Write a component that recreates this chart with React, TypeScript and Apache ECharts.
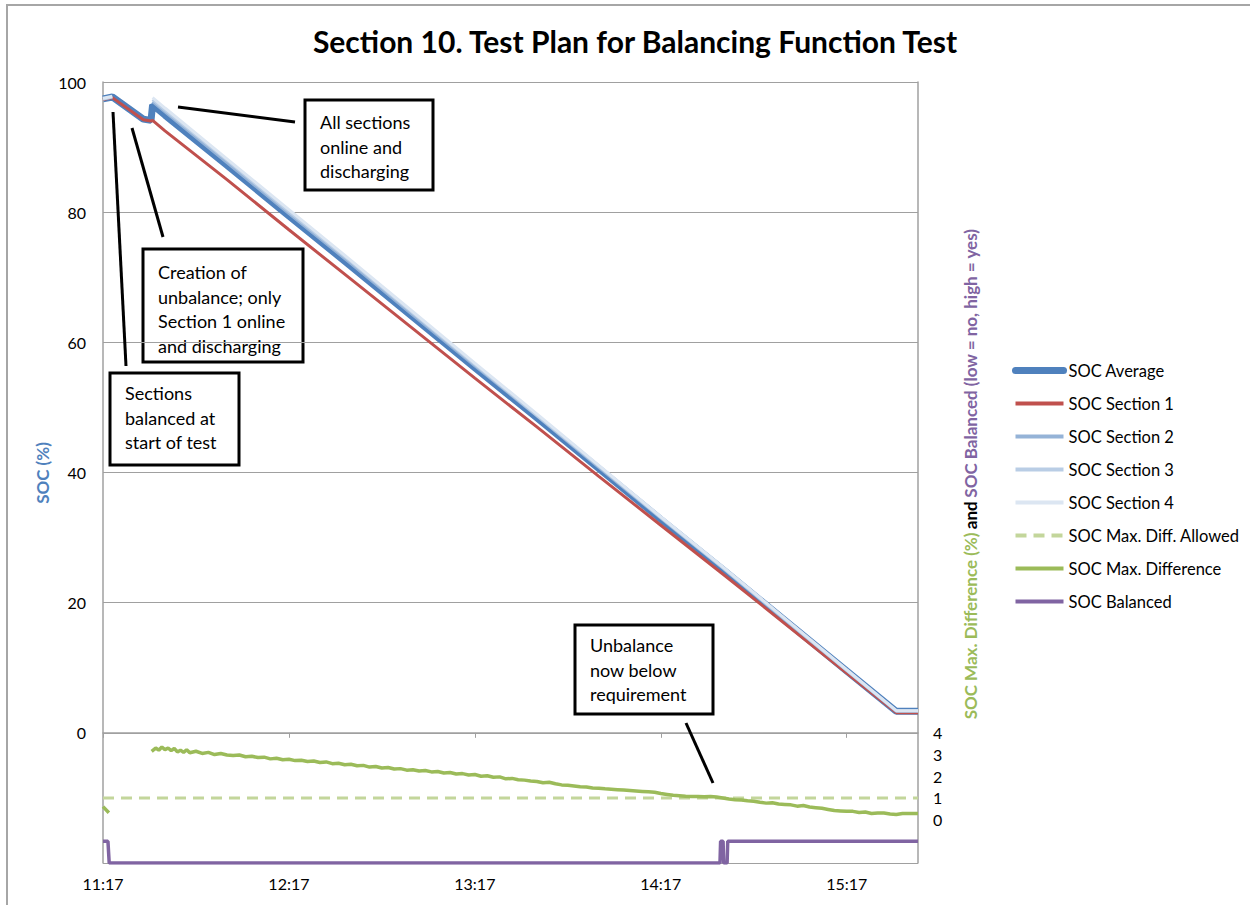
import React, { useEffect, useRef } from "react";
import * as echarts from "echarts";

// ---- Data (minutes after 11:17) ----
const START_MIN = 11 * 60 + 17;
const X_MAX = 263;
const SOC_TIME = [0, 3, 13, 15.5, 16, 20, 40, 60, 80, 100, 120, 140, 160, 180, 200, 220, 240, 256, 263];
const SOC_AVERAGE = [97.4, 97.7, 94.3, 94.1, 96.5, 94.9, 87.2, 79.4, 71.7, 63.9, 56.1, 48.4, 40.6, 32.8, 25.1, 17.3, 9.5, 3.3, 3.3];
const SOC_S1 = [97.3, 97.6, 94.2, 94.0, 94.1, 92.5, 85.0, 77.3, 69.7, 62.1, 54.5, 47.0, 39.4, 31.9, 24.4, 16.8, 9.2, 3.1, 3.1];
const SOC_S2 = [97.4, 97.7, null, null, 97.0, 95.4, 87.6, 79.8, 72.1, 64.2, 56.4, 48.7, 40.8, 33.0, 25.3, 17.4, 9.6, 3.3, 3.3];
const SOC_S3 = [97.4, 97.7, null, null, 97.3, 95.7, 88.0, 80.1, 72.4, 64.5, 56.6, 48.8, 41.0, 33.1, 25.4, 17.5, 9.6, 3.4, 3.4];
const SOC_S4 = [97.5, 97.8, null, null, 97.6, 96.0, 88.2, 80.4, 72.6, 64.7, 56.8, 49.0, 41.1, 33.2, 25.5, 17.6, 9.7, 3.4, 3.4];

const ALLOWED_TIME = [0, 263];
const ALLOWED_VALUES = [1, 1];

const DIFF_TIME = [0, 1.9, 8, 15.7, 17, 18, 19, 20, 21, 22, 23, 24, 25, 26, 27, 28, 30, 32, 34, 36, 38, 40, 42, 44, 46, 48, 50, 52, 54, 56, 58, 60, 62, 64, 66, 68, 70, 72, 74, 76, 78, 80, 82, 84, 86, 88, 90, 92, 94, 96, 98, 100, 102, 104, 106, 108, 110, 112, 114, 116, 118, 120, 122, 124, 126, 128, 130, 132, 134, 136, 138, 140, 142, 144, 146, 148, 150, 152, 154, 156, 158, 160, 162, 164, 166, 168, 170, 172, 174, 176, 178, 180, 182, 184, 186, 188, 190, 192, 194, 196, 198, 200, 202, 204, 206, 208, 210, 212, 214, 216, 218, 220, 222, 224, 226, 228, 230, 232, 234, 236, 238, 240, 242, 244, 246, 248, 250, 252, 254, 256, 258, 260, 263];
const DIFF_VALUES = [0.6, 0.32, null, 3.15, 3.3, 3.2, 3.35, 3.22, 3.3, 3.18, 3.28, 3.12, 3.2, 3.1, 3.22, 3.08, 3.15, 3.05, 3.1, 3.0, 3.05, 2.98, 2.95, 2.98, 2.9, 2.92, 2.86, 2.88, 2.8, 2.83, 2.76, 2.78, 2.72, 2.74, 2.68, 2.7, 2.63, 2.66, 2.58, 2.6, 2.53, 2.55, 2.48, 2.5, 2.42, 2.45, 2.38, 2.4, 2.33, 2.35, 2.28, 2.3, 2.24, 2.26, 2.2, 2.22, 2.15, 2.17, 2.1, 2.12, 2.06, 2.08, 2.0, 2.02, 1.95, 1.97, 1.88, 1.9, 1.84, 1.82, 1.78, 1.76, 1.7, 1.72, 1.65, 1.6, 1.58, 1.55, 1.52, 1.5, 1.46, 1.45, 1.42, 1.4, 1.38, 1.36, 1.34, 1.32, 1.3, 1.28, 1.26, 1.2, 1.16, 1.12, 1.1, 1.08, 1.07, 1.06, 1.05, 1.07, 1.04, 1.0, 0.95, 0.92, 0.9, 0.87, 0.85, 0.8, 0.76, 0.78, 0.72, 0.7, 0.68, 0.62, 0.65, 0.58, 0.55, 0.52, 0.47, 0.42, 0.4, 0.38, 0.38, 0.33, 0.35, 0.28, 0.3, 0.3, 0.26, 0.24, 0.28, 0.28, 0.28];

const BAL_TIME = [0, 1.6, 2.0, 199.1, 199.3, 200.1, 200.3, 201.4, 201.6, 263];
const BAL_VALUES = [1, 1, 0, 0, 1, 1, 0, 0, 1, 1];

const LEFT_TICKS = [0, 20, 40, 60, 80, 100];
const RIGHT_TICKS = [0, 1, 2, 3, 4];

const SERIES_NAMES = [
  "SOC Average",
  "SOC Section 1",
  "SOC Section 2",
  "SOC Section 3",
  "SOC Section 4",
  "SOC Max. Diff. Allowed",
  "SOC Max. Difference",
  "SOC Balanced",
];

const FONT = "Lato, 'Open Sans', sans-serif";

function zip(xs: number[], ys: (number | null)[]) {
  return xs.map((x, i) => [x, ys[i]]);
}

function fmtTime(v: number) {
  const t = START_MIN + Math.round(v);
  const h = Math.floor(t / 60);
  const m = t % 60;
  return h + ":" + (m < 10 ? "0" : "") + m;
}

export default function App() {
  const ref = useRef<HTMLDivElement>(null);
  useEffect(() => {
    if (!ref.current) return;
    const chart = echarts.init(ref.current, undefined, { renderer: "svg" });
    const lineSeries = (name: string, data: any[], color: string, width: number, yAxisIndex = 0, extra: any = {}) => ({
      name,
      type: "line",
      data,
      yAxisIndex,
      symbol: "none",
      showSymbol: false,
      connectNulls: false,
      lineStyle: { color, width, ...(extra.lineStyle || {}) },
      itemStyle: { color },
      emphasis: { disabled: true },
      z: 2,
    });
    const boxText = (x: number, y: number, w: number, h: number, text: string, dy: number) => ({
      type: "group",
      z: 100,
      children: [
        { type: "rect", shape: { x, y, width: w, height: h }, style: { fill: "#fff", stroke: "#000", lineWidth: 3 } },
        {
          type: "text",
          x: x + 15,
          y: y + dy,
          style: { text, fill: "#000", font: `18px ${FONT}`, lineHeight: 24.5, textAlign: "left", textVerticalAlign: "top" },
        },
      ],
    });
    const callout = (x1: number, y1: number, x2: number, y2: number) => ({
      type: "line",
      z: 100,
      shape: { x1, y1, x2, y2 },
      style: { stroke: "#000", lineWidth: 3 },
    });

    chart.setOption({
      animation: false,
      backgroundColor: "#fff",
      title: {
        text: "Section 10. Test Plan for Balancing Function Test",
        left: 630,
        top: 21,
        textAlign: "center",
        textStyle: { fontFamily: FONT, fontWeight: "bold", fontSize: 30, color: "#000" },
      },
      grid: { left: 103, top: 82, right: 332, bottom: 42, containLabel: false },
      legend: {
        orient: "vertical",
        left: 1012,
        top: 362,
        padding: 0,
        itemWidth: 48,
        itemHeight: 14,
        itemGap: 16,
        itemStyle: { opacity: 0 },
        lineStyle: { width: 4 },
        data: SERIES_NAMES.map((name, i) =>
          i === 0 ? { name, lineStyle: { width: 7, cap: "round" } } : { name }
        ),
        textStyle: { fontFamily: FONT, fontSize: 16.5, lineHeight: 14, color: "#000" },
        selectedMode: false,
      },
      xAxis: {
        type: "value",
        min: 0,
        max: X_MAX,
        interval: 60,
        axisLine: { lineStyle: { color: "#a0a0a0", width: 1.5 } },
        axisTick: { show: true, length: 5, lineStyle: { color: "#a0a0a0" } },
        splitLine: { show: false },
        axisLabel: {
          formatter: (v: number) => fmtTime(v),
          showMaxLabel: false,
          fontFamily: FONT,
          fontSize: 16,
          color: "#000",
          margin: 12,
        },
      },
      yAxis: [
        {
          type: "value",
          min: -20,
          max: 100,
          interval: 20,
          position: "left",
          axisLine: { show: true, lineStyle: { color: "#a0a0a0", width: 1.5 } },
          axisTick: { show: false },
          splitLine: { show: true, lineStyle: { color: "#a0a0a0", width: 1.2 } },
          axisLabel: {
            formatter: (v: number) => (LEFT_TICKS.includes(v) ? String(v) : ""),
            fontFamily: FONT,
            fontSize: 16,
            color: "#000",
            margin: 17,
          },
        },
        {
          type: "value",
          min: -2,
          max: 34,
          interval: 1,
          position: "right",
          axisLine: { show: true, lineStyle: { color: "#a0a0a0", width: 1.5 } },
          axisTick: { show: false },
          splitLine: { show: false },
          axisLabel: {
            formatter: (v: number) => (RIGHT_TICKS.includes(v) ? String(v) : ""),
            fontFamily: FONT,
            fontSize: 16,
            color: "#000",
            margin: 15,
          },
        },
        {
          type: "value",
          min: 0,
          max: 36,
          show: false,
          position: "right",
          splitLine: { show: false },
        },
      ],
      series: [
        lineSeries(SERIES_NAMES[0], zip(SOC_TIME, SOC_AVERAGE), "#4f81bd", 7),
        lineSeries(SERIES_NAMES[1], zip(SOC_TIME, SOC_S1), "#c0504d", 3),
        lineSeries(SERIES_NAMES[2], zip(SOC_TIME, SOC_S2), "#95b3d7", 3),
        lineSeries(SERIES_NAMES[3], zip(SOC_TIME, SOC_S3), "#b9cde5", 3),
        lineSeries(SERIES_NAMES[4], zip(SOC_TIME, SOC_S4), "#dce6f2", 3),
        lineSeries(SERIES_NAMES[5], zip(ALLOWED_TIME, ALLOWED_VALUES), "#c3d69b", 3, 1, { lineStyle: { type: [11, 7] } }),
        lineSeries(SERIES_NAMES[6], zip(DIFF_TIME, DIFF_VALUES), "#9bbb59", 3.5, 1),
        lineSeries(SERIES_NAMES[7], zip(BAL_TIME, BAL_VALUES), "#8064a2", 3.5, 2),
      ],
      graphic: [
        {
          type: "rect",
          z: -1,
          shape: { x: 7, y: 5, width: 1280, height: 940 },
          style: { fill: "none", stroke: "#a6a6a6", lineWidth: 2 },
          silent: true,
        },
        {
          type: "text",
          x: 42,
          y: 473,
          rotation: Math.PI / 2,
          style: {
            text: "SOC (%)",
            fill: "#4f81bd",
            font: `bold 17px ${FONT}`,
            textAlign: "center",
            textVerticalAlign: "middle",
          },
        },
        {
          type: "text",
          x: 970,
          y: 474,
          rotation: Math.PI / 2,
          style: {
            text: "{g|SOC Max. Difference (%)} {k|and} {p|SOC Balanced (low = no, high = yes)}",
            textAlign: "center",
            textVerticalAlign: "middle",
            rich: {
              g: { fill: "#9bbb59", fontFamily: FONT, fontWeight: "bold", fontSize: 17 },
              k: { fill: "#000", fontFamily: FONT, fontWeight: "bold", fontSize: 17 },
              p: { fill: "#8064a2", fontFamily: FONT, fontWeight: "bold", fontSize: 17 },
            },
          },
        },
        callout(178, 107, 295, 122),
        callout(132, 128, 163, 237),
        callout(113, 112, 126, 366),
        callout(686, 723, 713, 783),
        boxText(305, 100, 128, 90, "All sections\nonline and\ndischarging", 10),
        boxText(143, 249, 160, 113, "Creation of\nunbalance; only\nSection 1 online\nand discharging", 11),
        boxText(110, 373, 129, 92, "Sections\nbalanced at\nstart of test", 8),
        boxText(575, 625, 138, 89, "Unbalance\nnow below\nrequirement", 8),
      ],
    });
    return () => chart.dispose();
  }, []);
  return <div ref={ref} style={{ position: "absolute", left: 0, top: 0, width: 1250, height: 905 }} />;
}
